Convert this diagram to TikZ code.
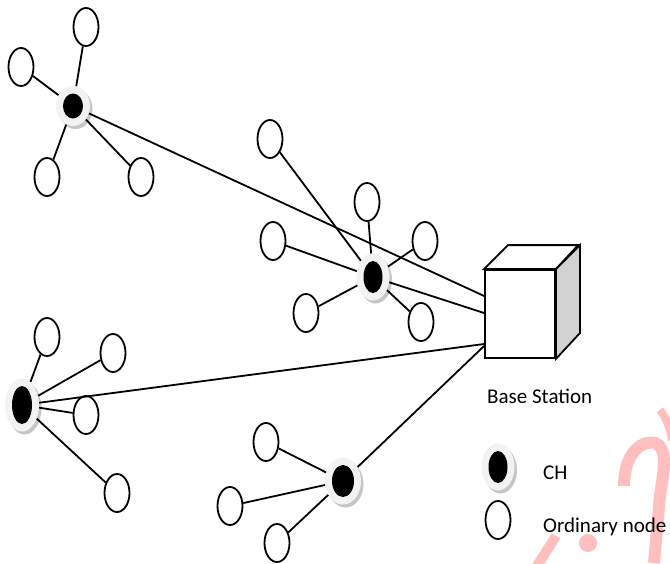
\documentclass[tikz,border=0pt]{standalone}
\usepackage{fontspec}
\setmainfont{Carlito}
\usetikzlibrary{shapes.geometric, shadows, positioning}

\begin{document}
\begin{tikzpicture}[x=1pt, y=-1pt,
  ord/.style={ellipse, draw=black, line width=1.8pt, fill=white, inner sep=0pt, minimum width=25pt, minimum height=38pt},
  ch/.style 2 args={ellipse, fill=gray!10, inner sep=0pt, minimum width=2*#1+14pt, minimum height=2*#2+15pt,
    drop shadow={shadow xshift=2.5pt, shadow yshift=-3pt, fill=gray!45, opacity=1},
    path picture={\fill[black] (path picture bounding box.center) ellipse [x radius=#1, y radius=#2];}},
  link/.style={line width=1.8pt},
  txt/.style={font=\fontsize{21}{25}\selectfont, inner sep=0pt, anchor=base west},
  wm/.style={draw=red!25, line width=12pt}
]
\useasboundingbox (0,0) rectangle (670,563);

% watermark
\draw[wm] (624,486) .. controls (624,455) and (640,440) .. (655,443) .. controls (668,447) and (664,470) .. (660,495) -- (654,563);
\draw[wm, line width=8pt] (660,410) .. controls (668,420) and (670,430) .. (672,440);
\draw[wm, line width=10pt] (537,566) -- (556,536);
\fill[red!25] (588,543) circle (9);

% base station
\node[draw, line width=1.8pt, fill=white, minimum width=70pt, minimum height=88pt] (bs) at (520,314) {};
\draw[line width=1.8pt, fill=white] (bs.north west) -- ++(24,-24) -- ++(70,0) -- (bs.north east) -- cycle;
\draw[line width=1.8pt, fill=gray!35] (bs.north east) -- ++(24,-24) -- ++(0,88) -- (bs.south east) -- cycle;
\node[txt] (bslabel) at (487,403) {Base Station};
\coordinate (bs1) at ([yshift=18pt]bs.west);
\coordinate (bs2) at ([yshift=1pt]bs.west);
\coordinate (bs3) at ([yshift=-30pt]bs.west);
\coordinate (bs4) at ([yshift=-32pt]bs.west);

% cluster 1
\node[ch={10pt}{12.5pt}] (ch1) at (73,106) {};
\node[ord] (a1) at (86,27) {};
\node[ord] (a2) at (21,67) {};
\node[ord] (a3) at (47,177) {};
\node[ord] (a4) at (141,177) {};

% cluster 2
\node[ch={9.5pt}{16pt}] (ch2) at (373,277) {};
\node[ord] (b1) at (270,139) {};
\node[ord] (b2) at (367,202) {};
\node[ord] (b3) at (425,241) {};
\node[ord] (b4) at (273,241) {};
\node[ord] (b5) at (306,313) {};
\node[ord] (b6) at (421,322) {};

% cluster 3
\node[ch={10pt}{19pt}] (ch3) at (22,405) {};
\node[ord] (c1) at (47,337) {};
\node[ord] (c2) at (113,353) {};
\node[ord] (c3) at (86,415) {};
\node[ord] (c4) at (117,493) {};

% cluster 4
\node[ch={11pt}{16pt}] (ch4) at (343,481) {};
\node[ord] (d1) at (266,442) {};
\node[ord] (d2) at (230,506) {};
\node[ord] (d3) at (277,543) {};

% links
\foreach \n in {a1,a2,a3,a4} \draw[link] (ch1) -- (\n);
\foreach \n in {b1,b2,b3,b4,b5,b6} \draw[link] (ch2) -- (\n);
\foreach \n in {c1,c2,c3,c4} \draw[link] (ch3) -- (\n);
\foreach \n in {d1,d2,d3} \draw[link] (ch4) -- (\n);
\draw[link] (ch1) -- (bs1);
\draw[link] (ch2) -- (bs2);
\draw[link] (ch3) -- (bs3);
\draw[link] (ch4) -- (bs4);

% legend
\node[ch={9.5pt}{16pt}] (lgch) at (498,467) {};
\node[txt] (lgchtext) at (543,479) {CH};
\node[ord] (lgord) at (498,520) {};
\node[txt] (lgordtext) at (543,532) {Ordinary node};
\end{tikzpicture}
\end{document}
